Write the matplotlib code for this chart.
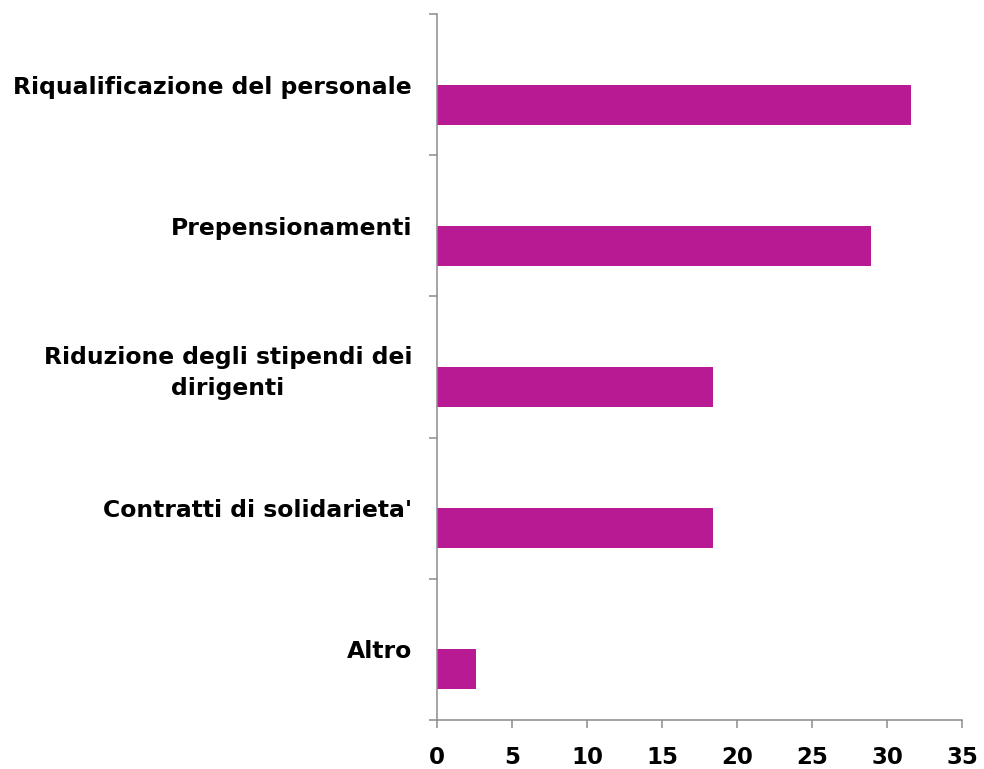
import matplotlib
matplotlib.use("Agg")
import matplotlib.pyplot as plt
import numpy as np

# 데이터 (위에서 아래 순서)
categories = [
    "Riqualificazione del personale",
    "Prepensionamenti",
    "Riduzione degli stipendi dei\ndirigenti",
    "Contratti di solidarieta'",
    "Altro",
]
values = [31.6, 28.9, 18.4, 18.4, 2.6]
x_ticks = [0, 5, 10, 15, 20, 25, 30, 35]

BAR_COLOR = "#B71A93"
AXIS_COLOR = "#8C8C8C"

fig = plt.figure(figsize=(9.84, 7.69), dpi=100)
fig.patch.set_facecolor("white")
ax = fig.add_axes([437 / 984, 1 - 720 / 769, (962 - 437) / 984, (720 - 14) / 769])

n = len(categories)
pos = np.arange(n)[::-1]  # 첫 항목이 맨 위
bar_h = 0.283
# 막대는 카테고리 중심보다 약간 아래에 위치 (엑셀 2계열 배치)
ax.barh(pos - bar_h / 2, values, height=bar_h, color=BAR_COLOR, edgecolor="none", zorder=2)

# Y축: 라벨은 카테고리 중심, 눈금은 경계
ax.set_ylim(-0.5, n - 0.5)
ax.set_yticks(pos)
ax.set_yticklabels(categories, fontsize=16.9, fontweight="bold", multialignment="center",
                   linespacing=1.4)
ax.set_yticks(np.arange(n + 1) - 0.5, minor=True)
ax.tick_params(axis="y", which="major", length=0, pad=18)
ax.tick_params(axis="y", which="minor", length=6, width=1.1, color=AXIS_COLOR, direction="out")

# X축
ax.set_xlim(0, 35)
ax.set_xticks(x_ticks)
ax.set_xticklabels([str(t) for t in x_ticks], fontsize=16.5, fontweight="bold")
ax.tick_params(axis="x", length=6, width=1.1, color=AXIS_COLOR, direction="out", pad=13)

# 테두리
for spine in ["top", "right"]:
    ax.spines[spine].set_visible(False)
for spine in ["bottom", "left"]:
    ax.spines[spine].set_color(AXIS_COLOR)
    ax.spines[spine].set_linewidth(1.1)

fig.savefig("out.png", dpi=100, facecolor="white")
plt.close(fig)
